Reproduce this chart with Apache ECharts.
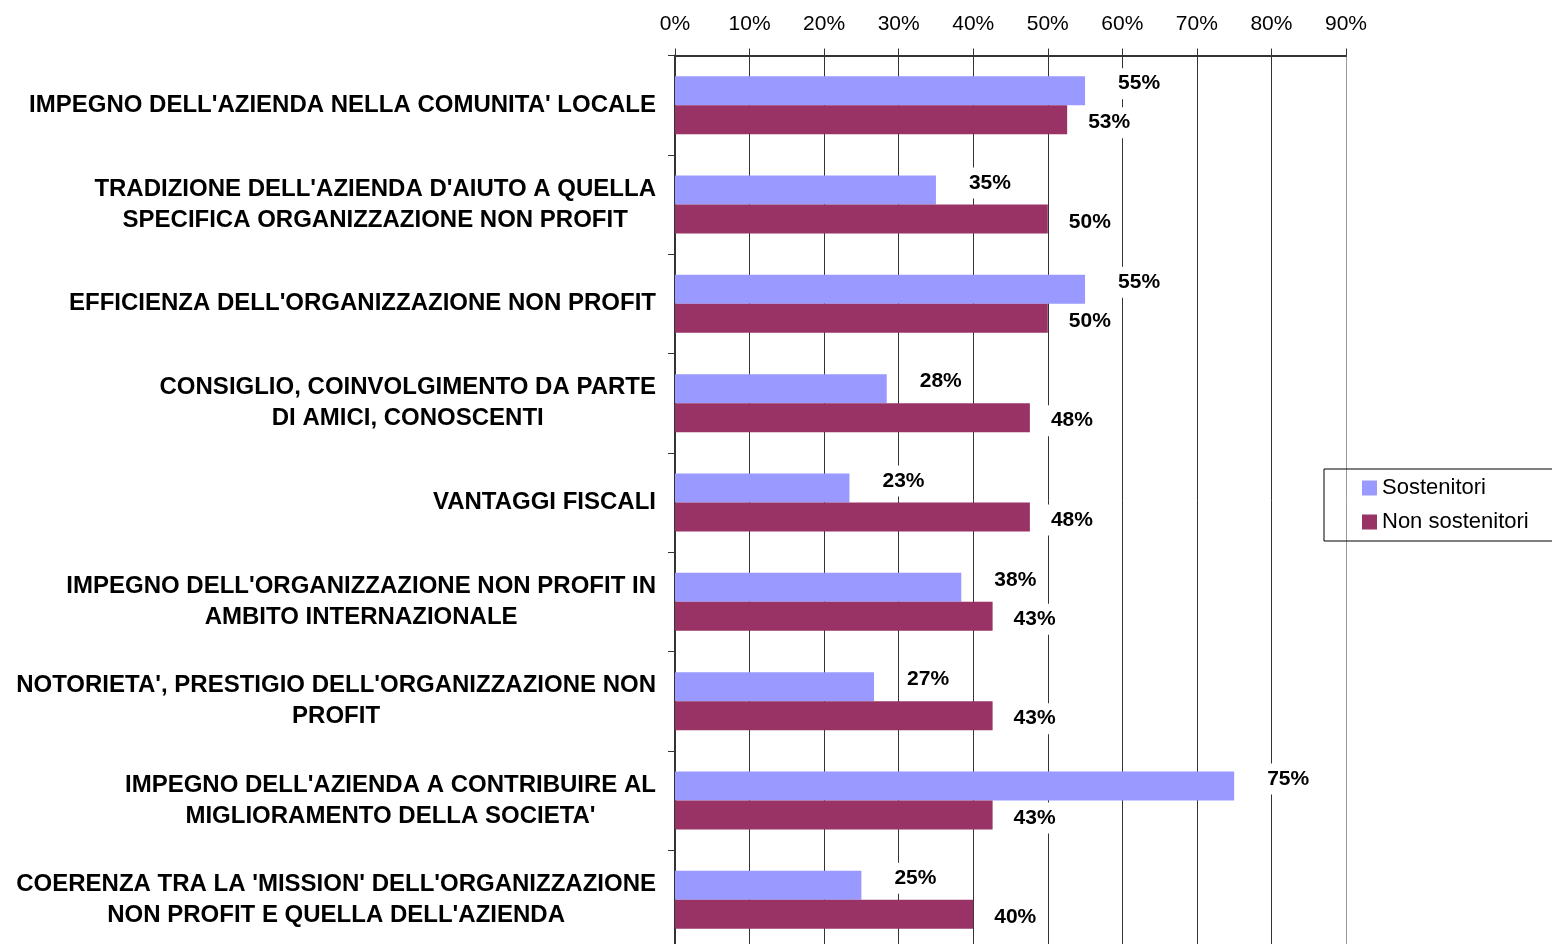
<!DOCTYPE html>
<html>
<head>
<meta charset="utf-8">
<title>Motivazioni</title>
<script src="https://cdn.jsdelivr.net/npm/echarts@6/dist/echarts.min.js"></script>
<style>
    html, body { margin: 0; padding: 0; background: #fff; }
    #main { width: 1552px; height: 944px; }
</style>
</head>
<body>
<div id="main"></div>
<script>
var categories = [
    "IMPEGNO DELL'AZIENDA NELLA COMUNITA' LOCALE",
    "TRADIZIONE DELL'AZIENDA D'AIUTO A QUELLA\nSPECIFICA ORGANIZZAZIONE NON PROFIT",
    "EFFICIENZA DELL'ORGANIZZAZIONE NON PROFIT",
    "CONSIGLIO, COINVOLGIMENTO DA PARTE\nDI AMICI, CONOSCENTI",
    "VANTAGGI FISCALI",
    "IMPEGNO DELL'ORGANIZZAZIONE NON PROFIT IN\nAMBITO INTERNAZIONALE",
    "NOTORIETA', PRESTIGIO DELL'ORGANIZZAZIONE NON\nPROFIT",
    "IMPEGNO DELL'AZIENDA A CONTRIBUIRE AL\nMIGLIORAMENTO DELLA SOCIETA'",
    "COERENZA TRA LA 'MISSION' DELL'ORGANIZZAZIONE\nNON PROFIT E QUELLA DELL'AZIENDA"
];
var sostenitori = [55, 35, 55, 28.4, 23.4, 38.4, 26.7, 75, 25];
var nonSostenitori = [52.6, 50, 50, 47.6, 47.6, 42.6, 42.6, 42.6, 40];
var seriesNames = ['Sostenitori', 'Non sostenitori'];
var xTicks = { min: 0, max: 90, step: 10 };

var font = "'Liberation Sans', Arial, sans-serif";
var axisColor = '#333';

var myChart = echarts.init(document.getElementById('main'));

function pct(p) {
    return Math.round(p.value) + '%';
}

var option = {
    animation: false,
    backgroundColor: '#fff',
    color: ['#9999ff', '#993366'],
    textStyle: { fontFamily: font },
    grid: {
        left: 675,
        width: 671,
        top: 55.5,
        height: 894,
        containLabel: false,
        outerBoundsMode: 'none'
    },
    legend: {
        orient: 'vertical',
        left: 1324,
        top: 469,
        padding: [8, 40, 8, 38],
        itemGap: 12,
        itemWidth: 15,
        itemHeight: 15,
        icon: 'rect',
        borderColor: '#000',
        borderWidth: 1,
        textStyle: { fontSize: 22, color: '#000', fontFamily: font },
        data: seriesNames
    },
    xAxis: {
        type: 'value',
        position: 'top',
        min: xTicks.min,
        max: xTicks.max,
        interval: xTicks.step,
        axisLine: { show: true, lineStyle: { color: axisColor, width: 2 } },
        axisTick: { show: true, length: 7, lineStyle: { color: axisColor } },
        axisLabel: {
            formatter: '{value}%',
            fontSize: 21,
            color: '#000',
            margin: 21,
            fontFamily: font
        },
        splitLine: {
            show: true,
            lineStyle: {
                color: [axisColor, axisColor, axisColor, axisColor, axisColor,
                        axisColor, axisColor, axisColor, axisColor, '#999'],
                width: 1
            }
        }
    },
    yAxis: {
        type: 'category',
        inverse: true,
        data: categories,
        axisLine: { show: true, lineStyle: { color: axisColor, width: 2 } },
        axisTick: { show: true, length: 7, lineStyle: { color: axisColor } },
        axisLabel: {
            margin: 19,
            interval: 0,
            formatter: function (v) {
                return v.split('\n').map(function (s) { return '{c|' + s + '}'; }).join('\n');
            },
            rich: {
                c: {
                    align: 'center',
                    fontSize: 24,
                    fontWeight: 'bold',
                    lineHeight: 31,
                    color: '#000',
                    fontFamily: font
                }
            }
        }
    },
    series: [
        {
            name: seriesNames[0],
            type: 'bar',
            barWidth: 29,
            barGap: '0%',
            data: sostenitori,
            label: {
                show: true,
                position: 'right',
                distance: 30,
                offset: [0, -7],
                formatter: pct,
                fontSize: 21,
                fontWeight: 'bold',
                color: '#000',
                fontFamily: font,
                backgroundColor: '#fff',
                padding: [5, 3]
            }
        },
        {
            name: seriesNames[1],
            type: 'bar',
            barWidth: 29,
            barGap: '0%',
            data: nonSostenitori,
            label: {
                show: true,
                position: 'right',
                distance: 18,
                offset: [0, 3],
                formatter: pct,
                fontSize: 21,
                fontWeight: 'bold',
                color: '#000',
                fontFamily: font,
                backgroundColor: '#fff',
                padding: [5, 3]
            }
        }
    ]
};

myChart.setOption(option);
</script>
</body>
</html>
